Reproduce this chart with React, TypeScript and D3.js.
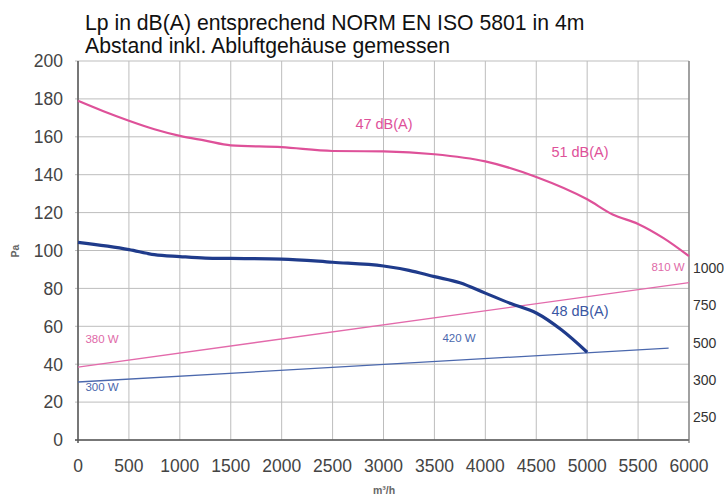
import React from 'react';
import * as d3 from 'd3';

// pressure curves (m³/h -> Pa)
const pinkFlow = [0, 250, 500, 750, 1000, 1250, 1500, 2000, 2500, 3000, 3500, 4000, 4500, 5000, 5250, 5500, 5750, 6000];
const pinkPa = [179, 173.5, 168.5, 164, 160.5, 158, 155.5, 154.5, 152.5, 152.3, 150.8, 147, 138.8, 127, 119, 114, 106.5, 97];

const blueFlow = [0, 500, 750, 1000, 1250, 1500, 2000, 2500, 3000, 3250, 3500, 3750, 4000, 4250, 4500, 4750, 5000];
const bluePa = [104.3, 100.5, 97.8, 96.8, 96, 95.8, 95.5, 93.8, 91.8, 89.5, 86.2, 83, 77.5, 72, 67, 58, 46.3];

// power lines, drawn on the Pa scale
const pinkPowerFlow = [0, 6000];
const pinkPowerPa = [38.5, 83];
const bluePowerFlow = [0, 5800];
const bluePowerPa = [30.6, 48.5];

const xTicks = [0, 500, 1000, 1500, 2000, 2500, 3000, 3500, 4000, 4500, 5000, 5500, 6000];
const yTicks = [0, 20, 40, 60, 80, 100, 120, 140, 160, 180, 200];
const rightTicks = ['1000', '750', '500', '300', '250'];

const titleLines = ['Lp in dB(A) entsprechend NORM EN ISO 5801 in 4m', 'Abstand inkl. Abluftgehäuse gemessen'];

const W = 724;
const H = 497;
const margin = { left: 78, right: 35, top: 61, bottom: 57 };

const PINK = '#de5199';
const BLUE = '#1f3b8b';
const font = 'Arial, "Liberation Sans", sans-serif';

export default function App() {
  const x = d3.scaleLinear().domain([0, 6000]).range([margin.left, W - margin.right]);
  const y = d3.scaleLinear().domain([0, 200]).range([H - margin.bottom, margin.top]);
  const yRight = d3.scalePoint().domain(rightTicks).range([268, 417]);

  const line = d3.line<[number, number]>()
    .x(d => x(d[0]))
    .y(d => y(d[1]))
    .curve(d3.curveMonotoneX);
  const straight = d3.line<[number, number]>().x(d => x(d[0])).y(d => y(d[1]));

  const zip = (a: number[], b: number[]) => a.map((v, i) => [v, b[i]] as [number, number]);

  const x0 = x(0), x1 = x(6000), y0 = y(0), y1 = y(200);

  return (
    <svg width={W} height={H} style={{ position: 'absolute', left: 0, top: 0, background: '#fff' }}>
      {/* grid */}
      {xTicks.map(t => (
        <line key={'gx' + t} x1={x(t)} x2={x(t)} y1={y1} y2={y0} stroke="#bdbdbd" strokeWidth={1} />
      ))}
      {yTicks.map(t => (
        <line key={'gy' + t} x1={x0 - 3} x2={x1} y1={y(t)} y2={y(t)} stroke="#bdbdbd" strokeWidth={1} />
      ))}
      <line x1={x0} x2={x0} y1={y1} y2={y0 + 3} stroke="#555" strokeWidth={1.5} />
      <line x1={x0 - 3} x2={x1} y1={y0} y2={y0} stroke="#555" strokeWidth={1.5} />
      <line x1={x1} x2={x1} y1={y1} y2={y0 + 3} stroke="#777" strokeWidth={1.2} />

      {/* tick labels */}
      {yTicks.map(t => (
        <text key={'ty' + t} x={x0 - 15} y={y(t)} dy="0.36em" textAnchor="end" fontSize={17.5} fill="#444" fontFamily={font}>{t}</text>
      ))}
      {xTicks.map(t => (
        <text key={'tx' + t} x={x(t)} y={y0 + 32} textAnchor="middle" fontSize={17.5} fill="#444" fontFamily={font}>{t}</text>
      ))}
      {rightTicks.map(t => (
        <text key={'tr' + t} x={x1 + 4} y={yRight(t)} dy="0.36em" textAnchor="start" fontSize={14} fill="#333" fontFamily={font}>{t}</text>
      ))}

      {/* axis titles */}
      <text x={384} y={494} textAnchor="middle" fontSize={10.5} fontWeight="bold" fill="#666" fontFamily={font}>m³/h</text>
      <text transform="translate(19,251) rotate(-90)" textAnchor="middle" fontSize={10.5} fontWeight="bold" fill="#666" fontFamily={font}>Pa</text>

      {/* title */}
      {titleLines.map((s, i) => (
        <text key={'t' + i} x={85} y={30 + i * 23} fontSize={21.2} fill="#111" fontFamily={font}>{s}</text>
      ))}

      {/* power lines */}
      <path d={straight(zip(pinkPowerFlow, pinkPowerPa)) || ''} fill="none" stroke="#e36aab" strokeWidth={1.3} />
      <path d={straight(zip(bluePowerFlow, bluePowerPa)) || ''} fill="none" stroke="#4b68ad" strokeWidth={1.3} />

      {/* curves */}
      <path d={line(zip(pinkFlow, pinkPa)) || ''} fill="none" stroke={PINK} strokeWidth={2.2} />
      <path d={line(zip(blueFlow, bluePa)) || ''} fill="none" stroke={BLUE} strokeWidth={3.2} />

      {/* labels */}
      <text x={384} y={124} dy="0.36em" textAnchor="middle" fontSize={14.5} fill={PINK} fontFamily={font}>47 dB(A)</text>
      <text x={580} y={152} dy="0.36em" textAnchor="middle" fontSize={14.5} fill={PINK} fontFamily={font}>51 dB(A)</text>
      <text x={580} y={311} dy="0.36em" textAnchor="middle" fontSize={14.5} fill="#3a57a3" fontFamily={font}>48 dB(A)</text>
      <text x={668} y={267} dy="0.36em" textAnchor="middle" fontSize={11.5} fill="#e06aa8" fontFamily={font}>810 W</text>
      <text x={102} y={339} dy="0.36em" textAnchor="middle" fontSize={11.5} fill="#e06aa8" fontFamily={font}>380 W</text>
      <text x={102} y={387} dy="0.36em" textAnchor="middle" fontSize={11.5} fill="#4b68ad" fontFamily={font}>300 W</text>
      <text x={459} y={338} dy="0.36em" textAnchor="middle" fontSize={11.5} fill="#4b68ad" fontFamily={font}>420 W</text>
    </svg>
  );
}
